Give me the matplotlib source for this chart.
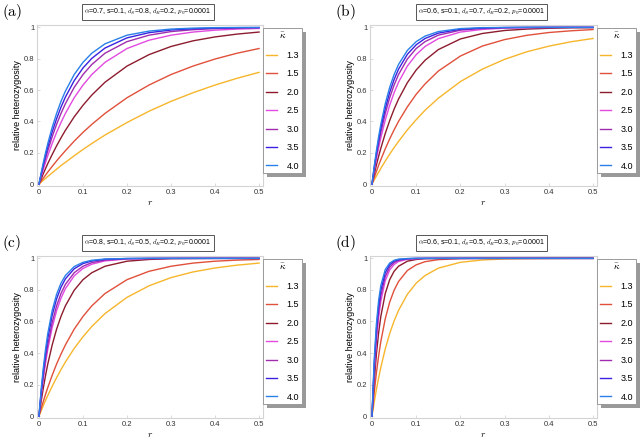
import matplotlib
matplotlib.use('Agg')
import matplotlib.pyplot as plt
from matplotlib.patches import Rectangle

plt.rcParams['font.family'] = ['Liberation Sans', 'DejaVu Sans']
plt.rcParams['mathtext.fontset'] = 'cm'

# recombination rate grid
r = [0, 0.005, 0.01, 0.015, 0.02, 0.03, 0.04, 0.05, 0.06, 0.08, 0.1, 0.12,
     0.15, 0.2, 0.25, 0.3, 0.35, 0.4, 0.45, 0.5]

kappa = ['1.3', '1.5', '2.0', '2.5', '3.0', '3.5', '4.0']

titles = [r'$\alpha$=0.7, s=0.1, $d_S$=0.8, $d_R$=0.2, $p_0$=0.0001',
          r'$\alpha$=0.6, s=0.1, $d_S$=0.7, $d_R$=0.2, $p_0$=0.0001',
          r'$\alpha$=0.8, s=0.1, $d_S$=0.5, $d_R$=0.2, $p_0$=0.0001',
          r'$\alpha$=0.6, s=0.1, $d_S$=0.5, $d_R$=0.3, $p_0$=0.0001']
panel_labels = ['(a)', '(b)', '(c)', '(d)']

# relative heterozygosity, one row per kappa
het_a = [
    [0, .012, .025, .037, .049, .072, .095, .118, .139, .181, .221, .259, .313, .393, .465, .528, .583, .632, .675, .713],
    [0, .020, .039, .058, .077, .113, .148, .181, .213, .274, .330, .381, .451, .551, .632, .699, .753, .798, .835, .865],
    [0, .034, .068, .100, .131, .189, .244, .295, .343, .429, .503, .568, .650, .753, .826, .878, .914, .939, .957, .970],
    [0, .049, .095, .139, .181, .259, .330, .393, .451, .551, .632, .699, .777, .865, .918, .950, .970, .982, .989, .993],
    [0, .058, .113, .165, .213, .302, .381, .451, .513, .617, .699, .763, .835, .909, .950, .973, .985, .992, .995, .998],
    [0, .065, .126, .183, .237, .333, .417, .491, .555, .660, .741, .802, .868, .933, .966, .983, .991, .995, .998, .999],
    [0, .072, .139, .201, .259, .362, .451, .528, .593, .699, .777, .835, .895, .950, .976, .989, .995, .998, .999, .999],
]
het_b = [
    [0, .026, .052, .076, .101, .147, .191, .233, .272, .346, .411, .471, .548, .654, .734, .796, .844, .880, .908, .929],
    [0, .042, .081, .120, .156, .225, .288, .346, .400, .493, .573, .639, .721, .817, .881, .922, .949, .967, .978, .986],
    [0, .063, .122, .177, .229, .323, .405, .478, .542, .647, .728, .790, .858, .926, .961, .980, .989, .994, .997, .998],
    [0, .084, .161, .231, .295, .408, .503, .583, .650, .753, .826, .878, .928, .970, .987, .995, .998, .999, 1, 1],
    [0, .095, .181, .259, .330, .451, .551, .632, .699, .798, .865, .909, .950, .982, .993, .998, .999, 1, 1, 1],
    [0, .104, .198, .281, .356, .483, .585, .667, .733, .828, .889, .929, .963, .988, .996, .999, 1, 1, 1, 1],
    [0, .113, .213, .302, .381, .513, .617, .699, .763, .853, .909, .944, .973, .992, .998, .999, 1, 1, 1, 1],
]
het_c = [
    [0, .034, .068, .100, .131, .189, .244, .295, .343, .429, .503, .568, .650, .753, .826, .878, .914, .939, .957, .970],
    [0, .049, .095, .139, .181, .259, .330, .393, .451, .551, .632, .699, .777, .865, .918, .950, .970, .982, .989, .993],
    [0, .095, .181, .259, .330, .451, .551, .632, .699, .798, .865, .909, .950, .982, .993, .998, .999, 1, 1, 1],
    [0, .128, .240, .338, .423, .562, .667, .747, .808, .889, .936, .963, .984, .996, .999, 1, 1, 1, 1, 1],
    [0, .139, .259, .362, .451, .593, .699, .777, .835, .909, .950, .973, .989, .998, .999, 1, 1, 1, 1, 1],
    [0, .156, .288, .400, .493, .639, .743, .817, .870, .934, .967, .983, .994, .999, 1, 1, 1, 1, 1, 1],
    [0, .169, .309, .426, .523, .670, .772, .843, .891, .948, .975, .988, .996, .999, 1, 1, 1, 1, 1, 1],
]
het_d = [
    [0, .088, .169, .242, .309, .426, .523, .603, .670, .772, .843, .891, .938, .975, .990, .996, .998, .999, 1, 1],
    [0, .148, .274, .381, .473, .617, .722, .798, .853, .923, .959, .979, .992, .998, 1, 1, 1, 1, 1, 1],
    [0, .221, .393, .528, .632, .777, .865, .918, .950, .982, .993, .998, .999, 1, 1, 1, 1, 1, 1, 1],
    [0, .278, .478, .623, .728, .858, .926, .961, .980, .994, .998, 1, 1, 1, 1, 1, 1, 1, 1, 1],
    [0, .302, .513, .660, .763, .885, .944, .973, .987, .997, .999, 1, 1, 1, 1, 1, 1, 1, 1, 1],
    [0, .330, .551, .699, .798, .909, .959, .982, .992, .998, 1, 1, 1, 1, 1, 1, 1, 1, 1, 1],
    [0, .356, .585, .733, .828, .929, .970, .988, .995, .999, 1, 1, 1, 1, 1, 1, 1, 1, 1, 1],
]
panels = [het_a, het_b, het_c, het_d]

colors = ['#f6b62c', '#e0503a', '#8c1c2e', '#e24ae0', '#a02cae', '#3a22e0', '#2a80e8']

W, H = 642, 442
fig = plt.figure(figsize=(W / 100, H / 100), dpi=100)

# axes boxes in pixels: left, top, right, bottom
boxes = [(37, 25, 263, 186), (370, 25, 597, 186),
         (37, 256, 263, 418), (370, 256, 597, 418)]

legends = []
for i, het in enumerate(panels):
    x0, y0, x1, y1 = boxes[i]
    ax = fig.add_axes([x0 / W, 1 - y1 / H, (x1 - x0) / W, (y1 - y0) / H])
    for vals, c, k in zip(het, colors, kappa):
        ax.plot(r, vals, color=c, lw=1.0, label=k)
    ax.set_xlim(-0.0045, 0.509)
    ax.set_ylim(-0.012, 1.015)
    ax.set_xticks([0, 0.1, 0.2, 0.3, 0.4, 0.5])
    ax.set_xticklabels(['0', '0.1', '0.2', '0.3', '0.4', '0.5'])
    ax.set_yticks([0, 0.2, 0.4, 0.6, 0.8, 1])
    ax.set_yticklabels(['0', '0.2', '0.4', '0.6', '0.8', '1'])
    ax.tick_params(length=2, width=0.5, color='#cccccc', direction='in',
                   labelsize=5.5, labelcolor='#333333', pad=2)
    for sp in ax.spines.values():
        sp.set_color('#d4d4d4')
        sp.set_linewidth(0.8)
    ax.set_xlabel(r'$r$', fontsize=7, labelpad=1)
    ax.set_ylabel('relative heterozygosity', fontsize=6.5, labelpad=1)

    leg = ax.legend(loc='upper left', bbox_to_anchor=((x1) / W, 1 - (y0 + 3) / H),
                    bbox_transform=fig.transFigure, borderaxespad=0,
                    fontsize=6.5, title=r'$\bar{\kappa}$', title_fontsize=7,
                    handlelength=1.3, handletextpad=1.0, labelspacing=1.05,
                    borderpad=0.3, fancybox=False, framealpha=1,
                    edgecolor='#9a9a9a')
    leg.get_frame().set_linewidth(0.7)
    legends.append(leg)

    cx = (x0 + x1 - 4) / 2 / W
    fig.text(cx, 1 - (y0 - 13) / H, titles[i], fontsize=5, ha='center', va='center',
             bbox=dict(boxstyle='square,pad=0.35', fc='white', ec='#555555', lw=0.7))
    fig.text((x0 - 25) / W, 1 - (y0 - 13) / H, r'$\mathrm{' + panel_labels[i] + '}$',
             fontsize=11, ha='center', va='center')

# drop shadows behind the legends
fig.canvas.draw()
for leg in legends:
    bb = leg.get_window_extent()
    fig.patches.append(Rectangle((bb.x0 + 4, bb.y0 - 4), bb.width, bb.height,
                                 transform=None, facecolor='#999999',
                                 edgecolor='none', zorder=-1, figure=fig))

fig.savefig('out.png', dpi=100)
